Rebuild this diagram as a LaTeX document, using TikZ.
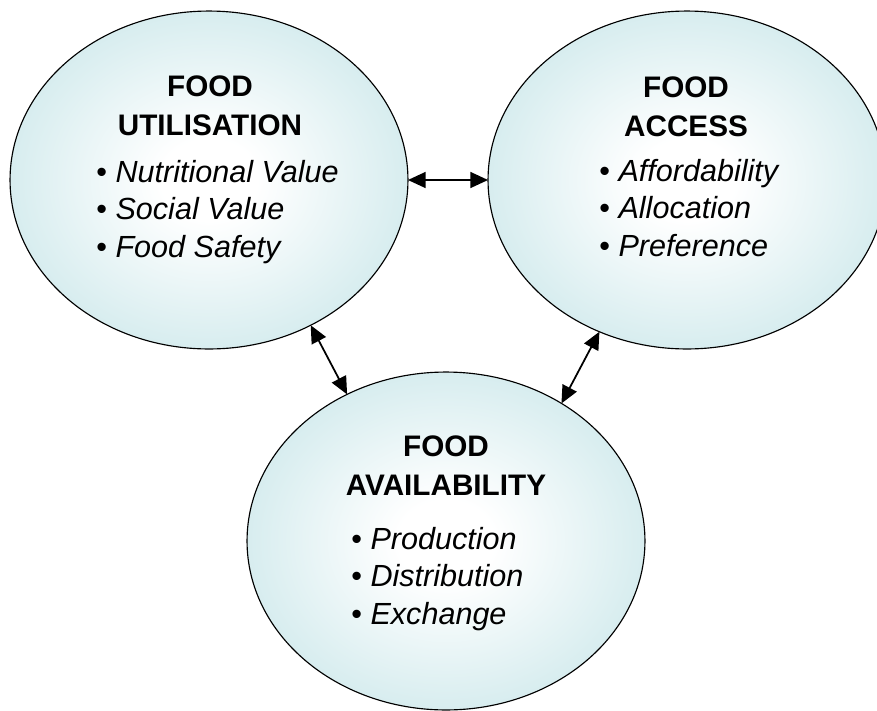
\documentclass[tikz,border=0pt]{standalone}
\usepackage{xcolor}
\usepackage{fontspec}
\setmainfont{Liberation Sans}
\usepackage{tikz}
\usetikzlibrary{positioning,arrows.meta,shapes}
\definecolor{palTeal}{HTML}{A3D5DA}
\definecolor{palInk}{HTML}{000000}
\pgfdeclareradialshading{tealglow}{\pgfpoint{0bp}{0bp}}{color(0bp)=(white); color(6bp)=(white); color(50bp)=(palTeal)}
\tikzset{
  pillarnode/.style={ellipse, draw=palInk, line width=0.65pt, shade, shading=tealglow,
                     minimum width=7.96cm, minimum height=6.76cm,
                     inner sep=0pt, outer sep=0pt},
  pillartitle/.style={font=\bfseries\fontsize{16.9}{22.2}\selectfont, align=center,
                      inner sep=0pt},
  pillarlist/.style={font=\itshape\fontsize{17.4}{21.3}\selectfont, align=left,
                     anchor=west, inner sep=0pt},
  linkarrow/.style={{Triangle[length=10pt,width=9pt]}-{Triangle[length=10pt,width=9pt]},
                    line width=1pt, palInk},
}
\newcommand{\pitem}[1]{\textup{•}~#1}

\begin{document}
\begin{tikzpicture}[x=0.02cm, y=-0.02cm]
\useasboundingbox (0,0) rectangle (877,711);
%% Pillars
\node[pillarnode] (util) at (209,180) {};
\node[pillarnode] (access) at (687,180) {};
\node[pillarnode] (avail) at (446,541) {};
%% Titles
\node[pillartitle] (utiltitle) at (210,106) {FOOD\\UTILISATION};
\node[pillartitle] (accesstitle) at (686,107) {FOOD\\ACCESS};
\node[pillartitle] (availtitle) at (446,466) {FOOD\\AVAILABILITY};
%% Lists
\node[pillarlist] (utillist) at (96,212) {\pitem{Nutritional Value}\\\pitem{Social Value}\\\pitem{Food Safety}};
\node[pillarlist] (accesslist) at (599,208) {\pitem{Affordability}\\\pitem{Allocation}\\\pitem{Preference}};
\node[pillarlist] (availlist) at (351,579) {\pitem{Production}\\\pitem{Distribution}\\\pitem{Exchange}};
%% Links
\draw[linkarrow] (util.east) -- (access.west);
\draw[linkarrow] (util.305) -- (avail.124.5);
\draw[linkarrow] (access.240) -- (avail.50.3);
\end{tikzpicture}
\end{document}
